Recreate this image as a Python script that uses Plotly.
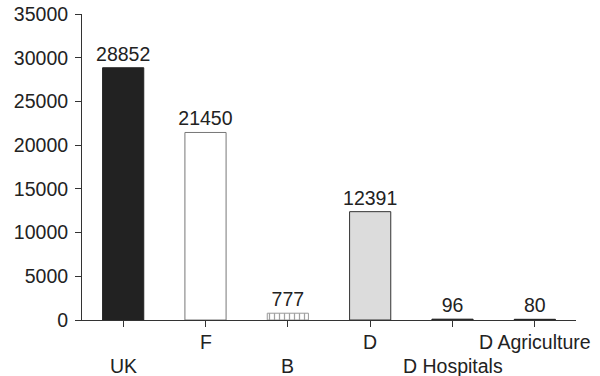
import plotly.graph_objects as go

# Data
categories = ["UK", "F", "B", "D", "D Hospitals", "D Agriculture"]
values = [28852, 21450, 777, 12391, 96, 80]
label_row = [2, 1, 2, 1, 2, 1]  # staggered category label rows
y_ticks = [0, 5000, 10000, 15000, 20000, 25000, 30000, 35000]

# Styling per bar
fills = ["#222222", "#ffffff", "#ffffff", "#dcdcdc", "#222222", "#222222"]
outlines = ["#222222", "#777777", "#999999", "#333333", "#222222", "#222222"]
patterns = ["", "", "|", "", "", ""]

FONT = "Liberation Sans, Arial, sans-serif"

fig = go.Figure(
    go.Bar(
        x=categories,
        y=values,
        marker=dict(
            color=fills,
            line=dict(color=outlines, width=1),
            pattern=dict(shape=patterns, fgcolor="#333333", bgcolor="#ffffff",
                         size=5, solidity=0.25),
        ),
        text=[str(v) for v in values],
        textposition="outside",
        constraintext="none",
        textfont=dict(family=FONT, size=19.5, color="#222222"),
        cliponaxis=False,
        width=0.5,
    )
)

plot_h = 376 - 14 - 56
row_offsets = {1: 22, 2: 46}
for cat, row in zip(categories, label_row):
    fig.add_annotation(
        x=cat, xref="x",
        y=-row_offsets[row] / plot_h, yref="paper",
        text=cat, showarrow=False,
        xanchor="center", yanchor="middle",
        font=dict(family=FONT, size=19.5, color="#222222"),
    )

fig.update_layout(
    width=600, height=376,
    margin=dict(l=82, r=24, t=14, b=56, autoexpand=False),
    paper_bgcolor="white", plot_bgcolor="white",
    showlegend=False,
    font=dict(family=FONT, size=19, color="#222222"),
)
fig.update_xaxes(
    range=[-0.5, 5.5], showticklabels=False, automargin=False,
    showline=True, linecolor="#333333", linewidth=1,
    ticks="outside", ticklen=6, tickcolor="#333333",
    showgrid=False, zeroline=False,
)
fig.update_yaxes(
    range=[0, 35000], tickvals=y_ticks, ticktext=[str(t) for t in y_ticks],
    automargin=False, ticklabelstandoff=3,
    showline=True, linecolor="#333333", linewidth=1,
    ticks="outside", ticklen=6, tickcolor="#333333",
    showgrid=False, zeroline=False,
    tickfont=dict(family=FONT, size=19.5, color="#222222"),
)

fig.write_html("out.html")
